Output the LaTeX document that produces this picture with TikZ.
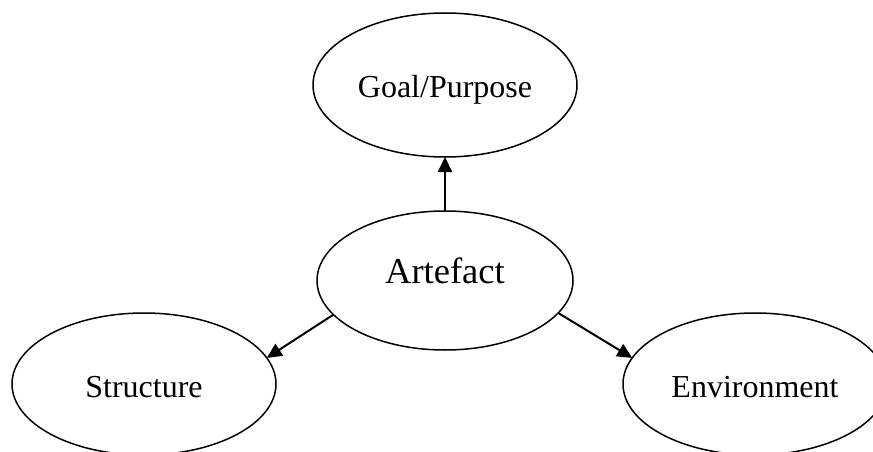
\documentclass[tikz,border=0pt]{standalone}
\usepackage{fontspec}
\setmainfont{Liberation Serif}
\usetikzlibrary{shapes.geometric,arrows.meta}
\begin{document}
\begin{tikzpicture}[x=1pt,y=-1pt,
  concept/.style={ellipse, draw, line width=1.5pt, inner sep=0pt, outer sep=0pt,
    text depth=0pt, font=\fontsize{32}{38}\selectfont},
  link/.style={line width=2pt, -{Triangle[length=15pt,width=14pt]}}]
  \clip (0,0) rectangle (873,452);
  \useasboundingbox (0,0) rectangle (873,452);
  \node[concept, minimum width=264pt, minimum height=144pt, text height=26pt] (goal) at (445,85) {Goal/Purpose};
  \node[concept, minimum width=256pt, minimum height=139pt, text height=5.6pt,
        font=\fontsize{36.5}{42}\selectfont] (art) at (445,280.5) {Artefact};
  \node[concept, minimum width=264pt, minimum height=142pt, text height=27pt] (struct) at (144,384) {Structure};
  \node[concept, minimum width=264pt, minimum height=142pt, text height=26pt] (env) at (755,384) {Environment};
  \draw[link] (art.90) -- (goal.270);
  \draw[link] (art.197) -- (struct.12);
  \draw[link] (art.344) -- (env.168);
\end{tikzpicture}
\end{document}
